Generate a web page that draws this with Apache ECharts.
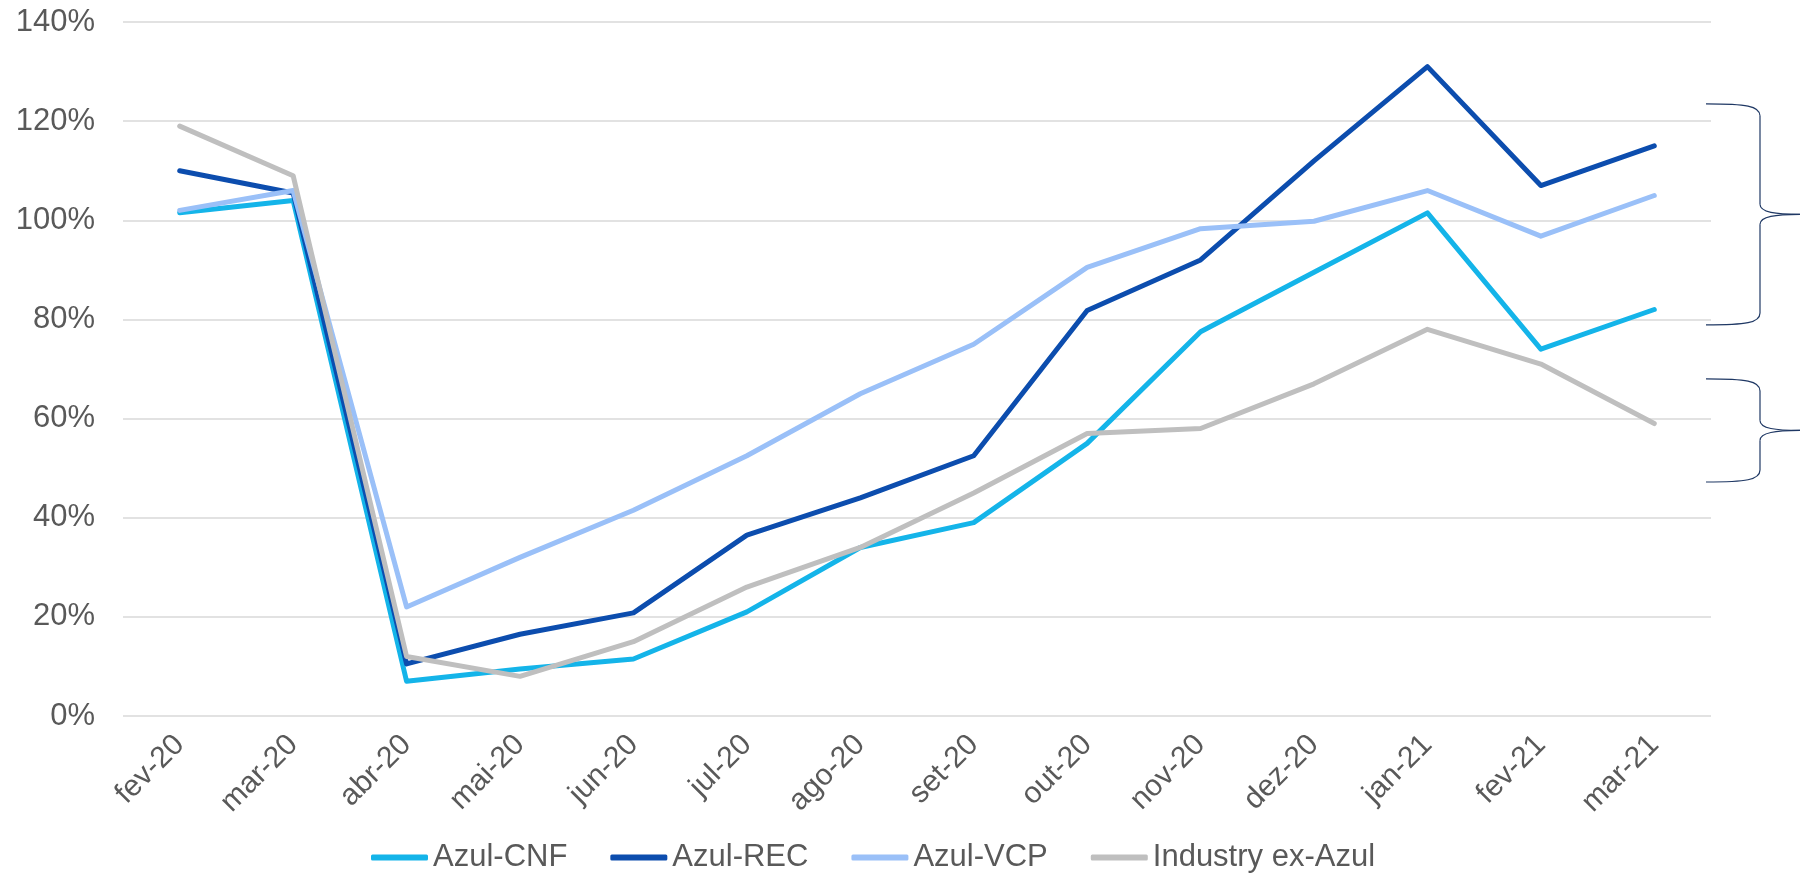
<!DOCTYPE html>
<html>
<head>
<meta charset="utf-8">
<script src="https://cdn.jsdelivr.net/npm/echarts@6/dist/echarts.min.js"></script>
<style>
html,body{margin:0;padding:0;background:#fff;}
#chart{width:1800px;height:878px;}
</style>
</head>
<body>
<div id="chart"></div>
<script>
const categories = ['fev-20','mar-20','abr-20','mai-20','jun-20','jul-20','ago-20','set-20','out-20','nov-20','dez-20','jan-21','fev-21','mar-21'];
const azulCNF = [101.5, 104, 7, 9.5, 11.5, 21, 34, 39, 55, 77.5, 89.5, 101.5, 74, 82];
const azulREC = [110, 105.5, 10.5, 16.5, 20.8, 36.5, 44, 52.5, 81.8, 92, 112, 131, 107, 115];
const azulVCP = [102, 106, 22, 32, 41.5, 52.5, 65, 75, 90.5, 98.3, 99.8, 106, 96.8, 105];
const industry = [119, 109, 12, 8, 15, 26, 34, 45, 57, 58, 67, 78, 71, 59];
const seriesNames = ['Azul-CNF','Azul-REC','Azul-VCP','Industry ex-Azul'];
const colors = ['#14B4E9','#0C4DAE','#9AC0F8','#BFBFBF'];
const braceRanges = [[123.5, 78.9], [68.0, 47.2]];

const chart = echarts.init(document.getElementById('chart'));
const font = '"Liberation Sans", Arial, sans-serif';
const mk = (name, data, color) => ({
  name, type: 'line', data, symbol: 'none', smooth: false,
  lineStyle: { color, width: 5, cap: 'round', join: 'round' },
  itemStyle: { color }
});
chart.setOption({
  animation: false,
  grid: { left: 123, right: 89, top: 22, bottom: 162 },
  xAxis: {
    type: 'category', data: categories, boundaryGap: true,
    axisLine: { show: false }, axisTick: { show: false },
    axisLabel: { rotate: 45, fontSize: 30, color: '#595959', fontFamily: font, margin: 24, interval: 0 }
  },
  yAxis: {
    type: 'value', min: 0, max: 140, interval: 20,
    axisLabel: { formatter: '{value}%', fontSize: 31, color: '#595959', fontFamily: font, margin: 28 },
    splitLine: { lineStyle: { color: '#D9D9D9', width: 1.5 } },
    axisLine: { show: false }, axisTick: { show: false }
  },
  legend: {
    bottom: 0, left: 366, icon: 'roundRect', itemWidth: 57, itemHeight: 6, itemGap: 43,
    textStyle: { fontSize: 31, color: '#595959', fontFamily: font },
    data: seriesNames
  },
  series: [
    mk(seriesNames[0], azulCNF, colors[0]),
    mk(seriesNames[1], azulREC, colors[1]),
    mk(seriesNames[2], azulVCP, colors[2]),
    mk(seriesNames[3], industry, colors[3])
  ]
});

const stroke = { fill: null, stroke: '#1F3864', lineWidth: 1.2 };
const x0 = 1706, x1 = 1760, x2 = 1802;
const graphics = [];
braceRanges.forEach(r => {
  const t = chart.convertToPixel({ yAxisIndex: 0 }, r[0]);
  const b = chart.convertToPixel({ yAxisIndex: 0 }, r[1]);
  const m = (t + b) / 2;
  graphics.push(
    { type: 'bezierCurve', shape: { x1: x0, y1: t, cpx1: x0 + 40, cpy1: t, cpx2: x1, cpy2: t + 2, x2: x1, y2: t + 12 }, style: stroke },
    { type: 'line', shape: { x1: x1, y1: t + 12, x2: x1, y2: m - 10 }, style: stroke },
    { type: 'bezierCurve', shape: { x1: x1, y1: m - 10, cpx1: x1, cpy1: m - 2, cpx2: x1 + 15, cpy2: m, x2: x2, y2: m }, style: stroke },
    { type: 'bezierCurve', shape: { x1: x2, y1: m, cpx1: x1 + 15, cpy1: m, cpx2: x1, cpy2: m + 2, x2: x1, y2: m + 10 }, style: stroke },
    { type: 'line', shape: { x1: x1, y1: m + 10, x2: x1, y2: b - 12 }, style: stroke },
    { type: 'bezierCurve', shape: { x1: x1, y1: b - 12, cpx1: x1, cpy1: b - 2, cpx2: x0 + 40, cpy2: b, x2: x0, y2: b }, style: stroke }
  );
});
chart.setOption({ graphic: graphics });
</script>
</body>
</html>
